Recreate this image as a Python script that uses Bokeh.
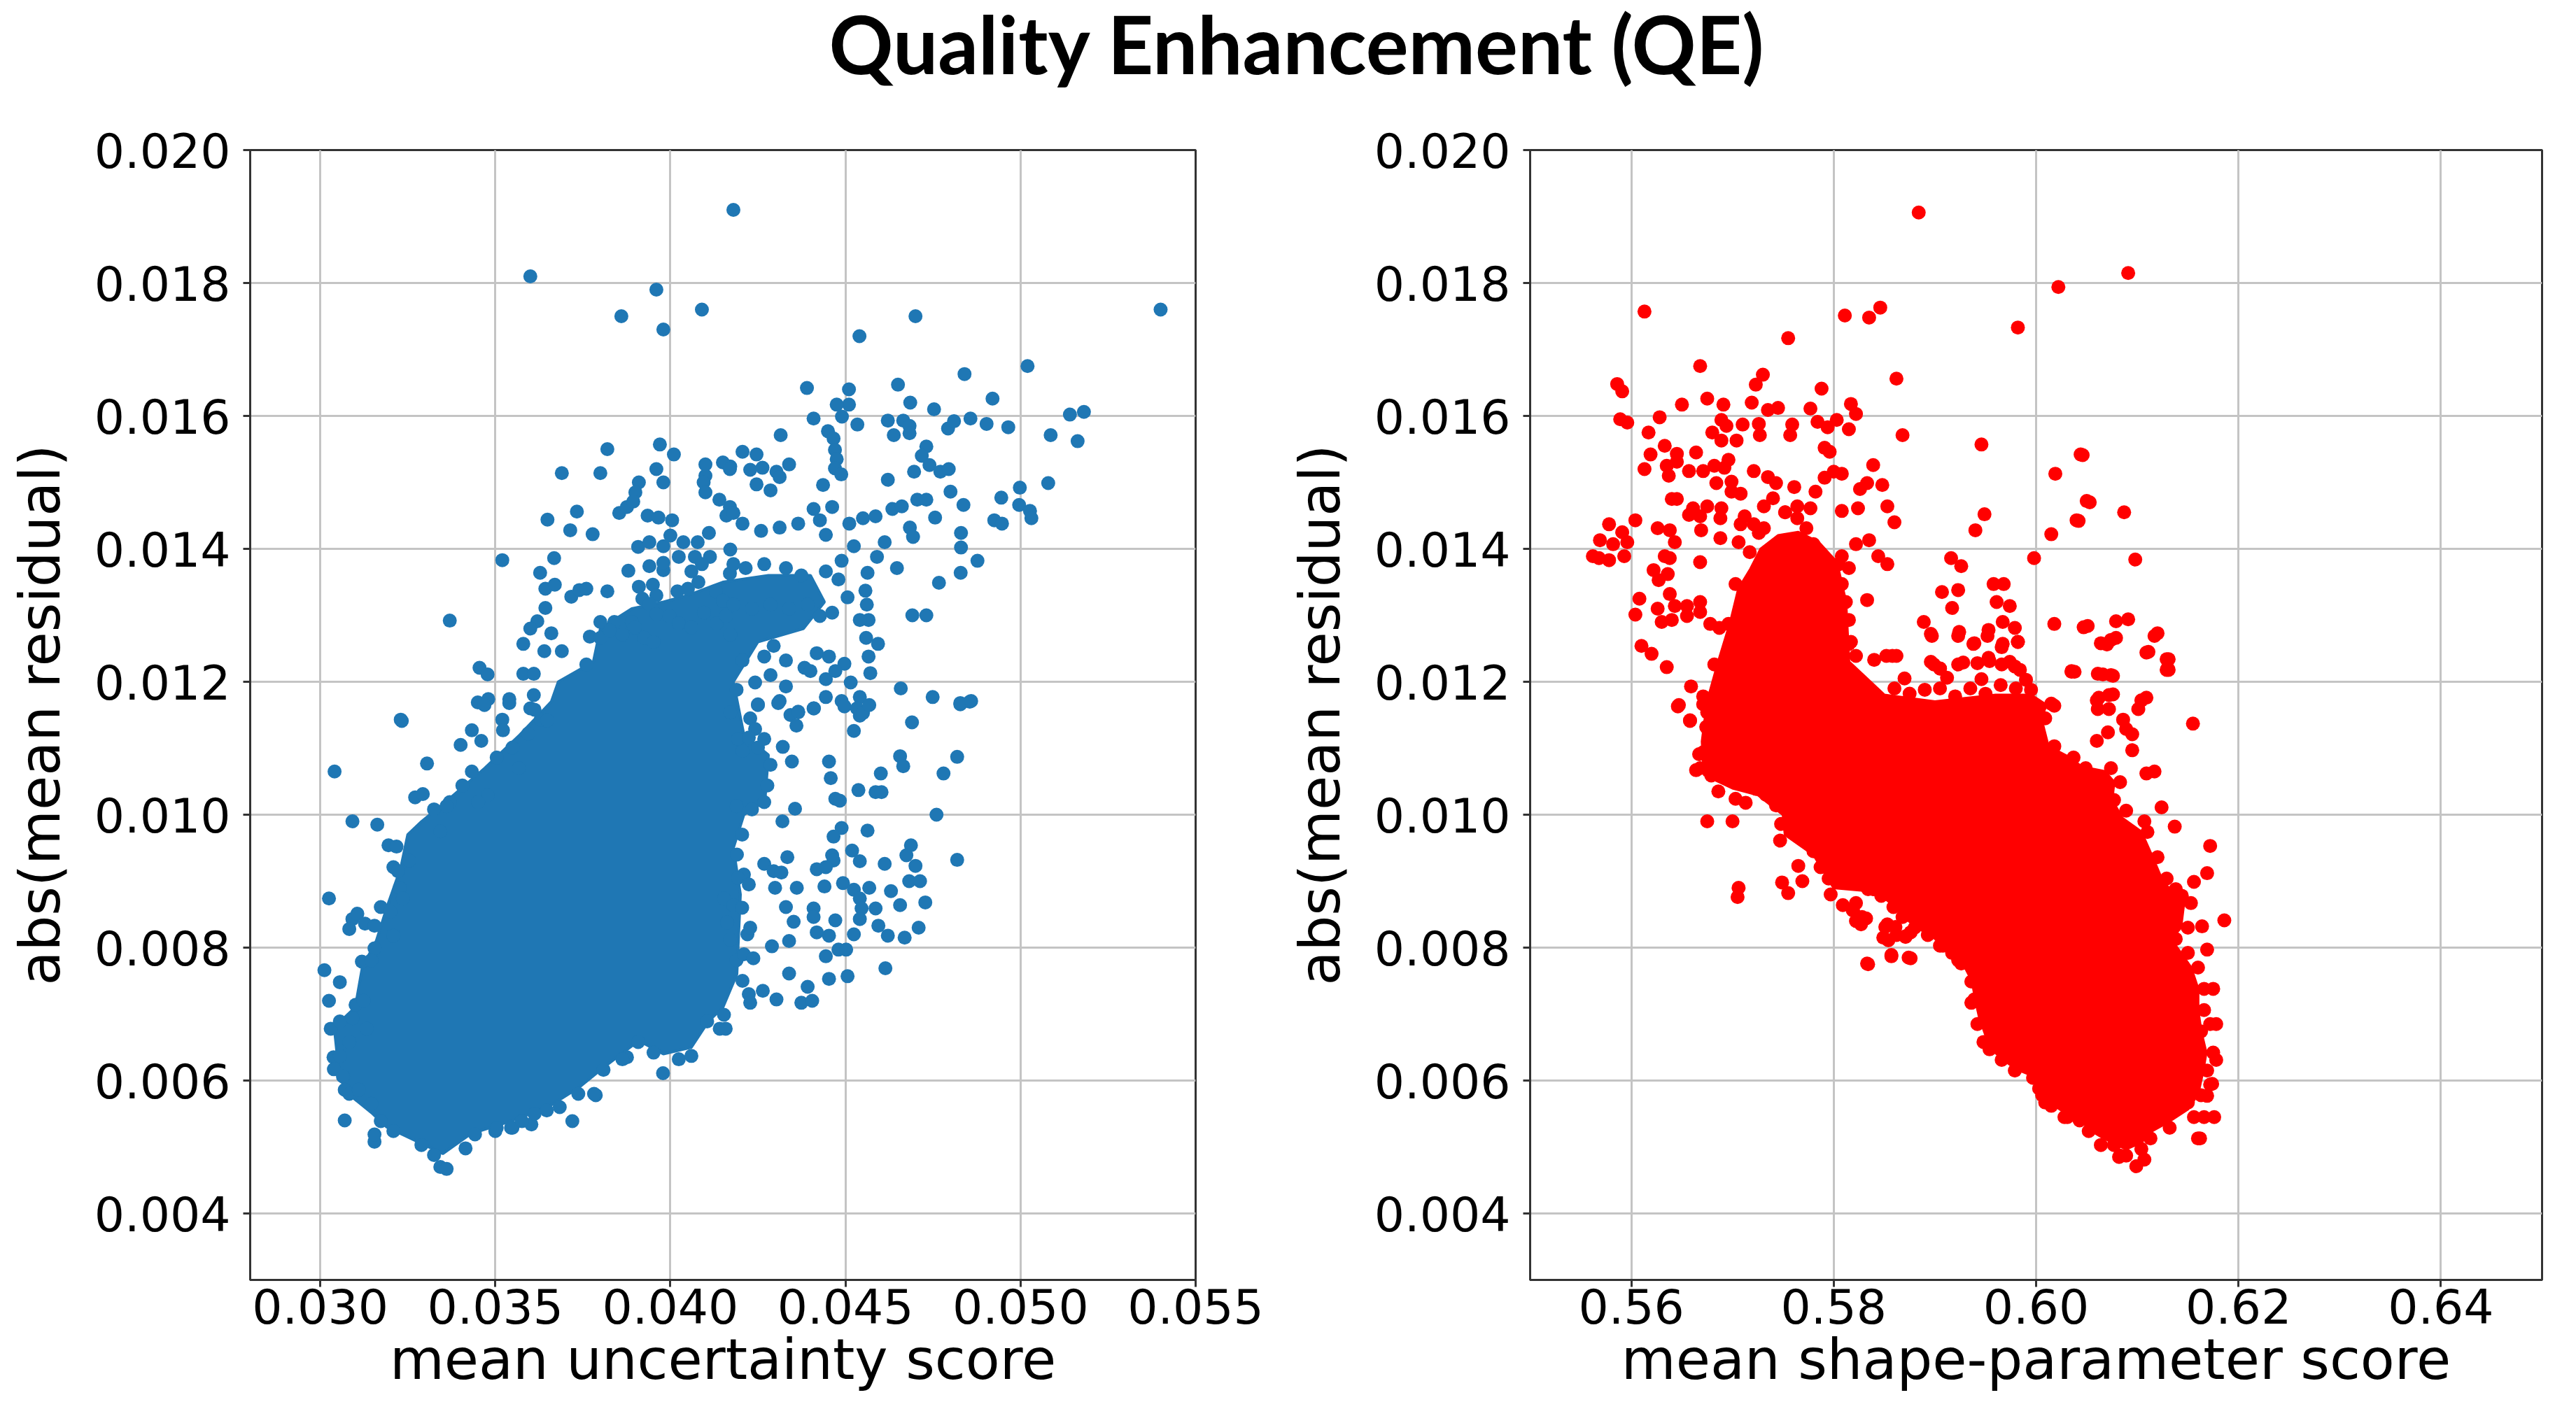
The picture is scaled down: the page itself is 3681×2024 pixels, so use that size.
from bokeh.plotting import figure
from bokeh.models import Div, FixedTicker, NumeralTickFormatter, Range1d
from bokeh.layouts import column, row
from bokeh.embed import file_html
from bokeh.resources import INLINE

TITLE = "Quality Enhancement (QE)"
X1_LABEL = "mean uncertainty score"
X2_LABEL = "mean shape-parameter score"
Y_LABEL = "abs(mean residual)"
Y_TICKS = [0.004, 0.006, 0.008, 0.010, 0.012, 0.014, 0.016, 0.018, 0.020]
X1_TICKS = [0.030, 0.035, 0.040, 0.045, 0.050, 0.055]
X2_TICKS = [0.56, 0.58, 0.60, 0.62, 0.64]

# outline of the fully overlapped core of the blue cloud
blue_core = [
    (0.0335, 0.0049), (0.0343, 0.0052), (0.0355, 0.0054), (0.0365, 0.0056), (0.0374, 0.0059), (0.0381, 0.0062),
    (0.0391, 0.0066), (0.0398, 0.0064), (0.0406, 0.0065), (0.0411, 0.0069), (0.0415, 0.0071), (0.0419, 0.0076),
    (0.0420, 0.0088), (0.0418, 0.0095), (0.0421, 0.0100), (0.0427, 0.0102), (0.0428, 0.0109), (0.0421, 0.0112),
    (0.0418, 0.0120), (0.0425, 0.0126), (0.0438, 0.0128), (0.0444, 0.0132), (0.0440, 0.0136), (0.0428, 0.0136),
    (0.0415, 0.0135), (0.0405, 0.0133), (0.0398, 0.0132), (0.0389, 0.0131), (0.0380, 0.0128), (0.0378, 0.0123),
    (0.0368, 0.0120), (0.0366, 0.0117), (0.0357, 0.0112), (0.0347, 0.0107), (0.0336, 0.0102), (0.0329, 0.0099),
    (0.0325, 0.0097), (0.0323, 0.0092), (0.0319, 0.0086), (0.0316, 0.0081), (0.0312, 0.0077), (0.0310, 0.0071),
    (0.0304, 0.0068), (0.0305, 0.0063), (0.0306, 0.0060), (0.0308, 0.0058), (0.0315, 0.0055), (0.0319, 0.0053),
    (0.0331, 0.0050),
]

# individual blue points
blue_pts = [
    (0.0418, 0.0191), (0.0360, 0.0181), (0.0396, 0.0179), (0.0409, 0.0176), (0.0386, 0.0175), (0.0398, 0.0173),
    (0.0540, 0.0176), (0.0470, 0.0175), (0.0454, 0.0172), (0.0502, 0.01675), (0.0484, 0.01663), (0.0465, 0.01647),
    (0.0492, 0.01626), (0.0439, 0.01642), (0.0451, 0.0164), (0.0451, 0.01617), (0.04475, 0.01617), (0.0449, 0.01599),
    (0.04534, 0.01587), (0.04409, 0.01596), (0.04685, 0.0162), (0.04753, 0.0161), (0.04621, 0.01593), (0.04665, 0.01593),
    (0.04683, 0.01585), (0.04638, 0.01571), (0.04683, 0.01574), (0.04793, 0.01581), (0.0481, 0.01592), (0.04857, 0.01596),
    (0.04903, 0.01588), (0.04965, 0.01583), (0.05141, 0.01602), (0.05181, 0.01606), (0.05086, 0.01571), (0.05163, 0.01562),
    (0.04315, 0.01571), (0.04206, 0.01546), (0.04246, 0.01542), (0.04171, 0.01524), (0.0445, 0.01577), (0.04466, 0.01566),
    (0.0447, 0.01549), (0.04475, 0.01535), (0.0447, 0.01521), (0.04488, 0.01512), (0.04436, 0.01496), (0.04228, 0.01519),
    (0.04263, 0.01522), (0.04303, 0.01516), (0.04312, 0.01508), (0.04246, 0.01497), (0.04286, 0.01488), (0.04339, 0.01527),
    (0.04621, 0.01504), (0.04731, 0.01554), (0.04718, 0.0154), (0.0474, 0.01526), (0.04696, 0.01516), (0.04771, 0.01516),
    (0.04795, 0.0152), (0.048, 0.01486), (0.04837, 0.01466), (0.04705, 0.01474), (0.04731, 0.01474), (0.04634, 0.0146),
    (0.04661, 0.01464), (0.04756, 0.01447), (0.04945, 0.01477), (0.04998, 0.01492), (0.05079, 0.01499), (0.04996, 0.01466),
    (0.05027, 0.01457), (0.05031, 0.01446), (0.04925, 0.01443), (0.04947, 0.01438), (0.0483, 0.01424), (0.0483, 0.01402),
    (0.04877, 0.01382), (0.04829, 0.01364), (0.04767, 0.01349), (0.04647, 0.01371), (0.04684, 0.01432), (0.04693, 0.01418),
    (0.04691, 0.013), (0.04731, 0.013), (0.04612, 0.0141), (0.0459, 0.01388), (0.04563, 0.01364), (0.04557, 0.01337),
    (0.04561, 0.01316), (0.04566, 0.01293), (0.04593, 0.01257), (0.04566, 0.01238), (0.04571, 0.01213), (0.04511, 0.01438),
    (0.0455, 0.01446), (0.04586, 0.01449), (0.04524, 0.01404), (0.04658, 0.0119), (0.04749, 0.01177), (0.04828, 0.01166),
    (0.04855, 0.0117),
    (0.0401, 0.01542), (0.0382, 0.0155), (0.0397, 0.01557), (0.0369, 0.01514), (0.0380, 0.01514), (0.0391, 0.0150),
    (0.0390, 0.01485), (0.0396, 0.0152), (0.0398, 0.0150), (0.0410, 0.01527), (0.0410, 0.0151), (0.04095, 0.0150),
    (0.0410, 0.01485), (0.0415, 0.0153), (0.0417, 0.0152), (0.0414, 0.01474), (0.0417, 0.01463), (0.0416, 0.0145),
    (0.03854, 0.01454), (0.03876, 0.01463), (0.03894, 0.01471), (0.03733, 0.01456), (0.03649, 0.01444), (0.03714, 0.01428),
    (0.03778, 0.01422), (0.03935, 0.0145), (0.03966, 0.01447), (0.04005, 0.01443), (0.03908, 0.01403), (0.0394, 0.0141),
    (0.0398, 0.01404), (0.0400, 0.0142), (0.04037, 0.0141), (0.04078, 0.0141), (0.0411, 0.01424), (0.04024, 0.01388),
    (0.0407, 0.01388), (0.04113, 0.01388), (0.0352, 0.01383), (0.03668, 0.01386), (0.03628, 0.01364), (0.0388, 0.01367),
    (0.0394, 0.01374), (0.0398, 0.01368), (0.0398, 0.01379), (0.0406, 0.01366), (0.0409, 0.01377), (0.0408, 0.0135),
    (0.0417, 0.01363), (0.0418, 0.01377), (0.03643, 0.0134), (0.0367, 0.01346), (0.03717, 0.01328), (0.0374, 0.01338),
    (0.0376, 0.0134), (0.0382, 0.01336), (0.0391, 0.01343), (0.0395, 0.01346), (0.0392, 0.01325), (0.0396, 0.0133),
    (0.0394, 0.01317), (0.0402, 0.01336), (0.0405, 0.0134), (0.0413, 0.01336), (0.0415, 0.01322), (0.03643, 0.01311),
    (0.0337, 0.01292), (0.0362, 0.01291), (0.0360, 0.0128), (0.0366, 0.01273), (0.0358, 0.01257), (0.0364, 0.01246),
    (0.0369, 0.01246), (0.0377, 0.01268), (0.0376, 0.01226), (0.03455, 0.01221), (0.03478, 0.01211), (0.0358, 0.01212),
    (0.0361, 0.01212), (0.0396, 0.01302), (0.0380, 0.0129), (0.0384, 0.0129), (0.0389, 0.0129), (0.0354, 0.01174),
    (0.0361, 0.0118), (0.0345, 0.01169), (0.0348, 0.01174), (0.0323, 0.01143), (0.0352, 0.01143), (0.0360, 0.0116),
    (0.0363, 0.01143),
    (0.038, 0.01266), (0.03827, 0.01277), (0.03863, 0.01271), (0.03899, 0.01282), (0.03926, 0.01266), (0.03952, 0.0126),
    (0.03997, 0.01299), (0.04024, 0.01288), (0.0406, 0.01282), (0.04096, 0.01304), (0.04132, 0.01288), (0.04159, 0.01299),
    (0.0418, 0.01454), (0.04206, 0.01438), (0.04259, 0.01427), (0.04312, 0.01432), (0.04365, 0.01438), (0.04409, 0.0146),
    (0.04462, 0.01463), (0.04427, 0.01443), (0.04444, 0.01421), (0.04171, 0.01399), (0.04215, 0.01371), (0.04268, 0.01377),
    (0.0433, 0.01371), (0.04374, 0.0136), (0.04444, 0.01366), (0.04489, 0.01382), (0.0448, 0.01354), (0.04506, 0.01327),
    (0.0418, 0.01316), (0.04233, 0.0131), (0.04286, 0.01316), (0.04339, 0.0131), (0.04392, 0.01316), (0.04427, 0.01299),
    (0.04462, 0.01304), (0.04541, 0.01293), (0.04559, 0.01266), (0.04171, 0.01271), (0.04206, 0.01232), (0.04268, 0.01238),
    (0.04295, 0.01254), (0.0433, 0.01232), (0.04383, 0.01221), (0.04418, 0.01243), (0.04453, 0.01238), (0.04497, 0.01227),
    (0.04189, 0.01188), (0.04242, 0.01199), (0.04286, 0.0121), (0.0433, 0.01193), (0.044, 0.01216), (0.04444, 0.01204),
    (0.04471, 0.01216), (0.04515, 0.01199), (0.04171, 0.01154), (0.0425, 0.01166), (0.04312, 0.01171), (0.04365, 0.01154),
    (0.04409, 0.0116), (0.04444, 0.01177), (0.04489, 0.01171), (0.04541, 0.01177), (0.04541, 0.01149),
    (0.03469, 0.01165), (0.0354, 0.01168), (0.03433, 0.01127), (0.0346, 0.01111), (0.03522, 0.01127), (0.03549, 0.01101),
    (0.03504, 0.01086), (0.03567, 0.0107), (0.03433, 0.01065), (0.03406, 0.01044), (0.03478, 0.01029), (0.0337, 0.01019),
    (0.03451, 0.01019), (0.03612, 0.01158), (0.03648, 0.01142), (0.03594, 0.01122),
    (0.03233, 0.01141), (0.03041, 0.01065), (0.03305, 0.01077), (0.03401, 0.01105), (0.03271, 0.01026), (0.03293, 0.01031),
    (0.03092, 0.0099), (0.03163, 0.00985), (0.03195, 0.00954), (0.03025, 0.00874), (0.03012, 0.00766), (0.03056, 0.00748),
    (0.03025, 0.0072), (0.03038, 0.00635), (0.0307, 0.0054), (0.03155, 0.00508), (0.03343, 0.0047), (0.03787, 0.00578),
    (0.03876, 0.00635), (0.0372, 0.00539), (0.03545, 0.00529), (0.035, 0.00524), (0.03603, 0.00534),
    (0.03325, 0.01008), (0.03361, 0.01013), (0.03343, 0.00975), (0.03218, 0.00952), (0.03209, 0.00921), (0.03222, 0.00915),
    (0.03254, 0.00931), (0.03227, 0.0089), (0.03236, 0.00874), (0.03173, 0.00861), (0.032, 0.00854), (0.03092, 0.00843),
    (0.03106, 0.00851), (0.03083, 0.00828), (0.03128, 0.00836), (0.03155, 0.00833), (0.03209, 0.00818), (0.03155, 0.00799),
    (0.03119, 0.00779), (0.03146, 0.00781), (0.03101, 0.00714), (0.03124, 0.0072), (0.0303, 0.00678), (0.03056, 0.00689),
    (0.03092, 0.00694), (0.03133, 0.00678), (0.03083, 0.00658), (0.03056, 0.00637), (0.03039, 0.00617), (0.03065, 0.00606),
    (0.0307, 0.00586), (0.03083, 0.0058), (0.0311, 0.00586), (0.03146, 0.00565), (0.03155, 0.00519), (0.03173, 0.00539),
    (0.03209, 0.00524), (0.03289, 0.00503), (0.03325, 0.00488), (0.03361, 0.00467), (0.03415, 0.00498),
    (0.03442, 0.00519), (0.03504, 0.00529), (0.03549, 0.00529), (0.03576, 0.00539), (0.03612, 0.0055), (0.03647, 0.00555),
    (0.03684, 0.0056), (0.03737, 0.0058), (0.03782, 0.0058), (0.03809, 0.00616), (0.03863, 0.00632), (0.03908, 0.00658),
    (0.03952, 0.00642), (0.03979, 0.00611), (0.04024, 0.00632), (0.0406, 0.00637), (0.04105, 0.00689), (0.04141, 0.00678),
    (0.04153, 0.00874), (0.0418, 0.00864), (0.04162, 0.00838), (0.04171, 0.00812), (0.04189, 0.00781), (0.04206, 0.0075),
    (0.04224, 0.0073), (0.04153, 0.00699), (0.04158, 0.00678),
    (0.0421, 0.0079), (0.0422, 0.0082), (0.04205, 0.0086), (0.0421, 0.0091), (0.0419, 0.0094), (0.04205, 0.0097),
    (0.04206, 0.01096), (0.0425, 0.01101), (0.04286, 0.01075), (0.04277, 0.01044), (0.04268, 0.01019), (0.04233, 0.01008),
    (0.04189, 0.01013),
    (0.0425, 0.01165), (0.04308, 0.01168), (0.04343, 0.0115), (0.04365, 0.01155), (0.0436, 0.01134), (0.0441, 0.0116),
    (0.04228, 0.01145), (0.04242, 0.01129), (0.04193, 0.01114), (0.04224, 0.01116), (0.04268, 0.01114), (0.04321, 0.01102),
    (0.04347, 0.0108), (0.04356, 0.01009), (0.0432, 0.0099), (0.04497, 0.01163), (0.04533, 0.0116), (0.0455, 0.01153),
    (0.04568, 0.01165), (0.04524, 0.01126), (0.0469, 0.01139), (0.04656, 0.01088), (0.04665, 0.01073), (0.04601, 0.01062),
    (0.04453, 0.0108), (0.04458, 0.01055), (0.04471, 0.01024), (0.04484, 0.01021), (0.04537, 0.01037), (0.04586, 0.01034),
    (0.04603, 0.01034), (0.0478, 0.01062), (0.04819, 0.01087), (0.04828, 0.01168), (0.04859, 0.01171), (0.0476, 0.0100),
    (0.04819, 0.00932), (0.04563, 0.00976), (0.04489, 0.0098), (0.04466, 0.00967), (0.04687, 0.00954), (0.04674, 0.00939),
    (0.047, 0.00923), (0.04682, 0.009), (0.04713, 0.009), (0.04612, 0.00926), (0.04519, 0.00946), (0.04541, 0.0093),
    (0.04462, 0.00939), (0.04466, 0.00931), (0.04418, 0.00918), (0.04444, 0.00921), (0.04334, 0.00936), (0.04268, 0.00926),
    (0.04295, 0.00915), (0.04317, 0.00913), (0.04299, 0.0089), (0.04193, 0.00905), (0.04224, 0.00895), (0.04361, 0.0089),
    (0.0444, 0.00892), (0.04493, 0.00897), (0.04524, 0.00887), (0.04541, 0.00874), (0.04568, 0.0089), (0.04546, 0.00859),
    (0.04541, 0.00843), (0.04586, 0.00859), (0.0463, 0.00885), (0.04656, 0.00864), (0.04728, 0.00868), (0.04709, 0.0083),
    (0.04669, 0.00815), (0.04594, 0.00833), (0.04621, 0.00818), (0.04524, 0.0082), (0.0433, 0.00861), (0.04352, 0.00839),
    (0.04409, 0.00859), (0.04409, 0.00846), (0.04418, 0.00823), (0.04453, 0.00818), (0.04471, 0.00841), (0.04339, 0.0081),
    (0.0429, 0.00802), (0.04228, 0.0083), (0.04237, 0.00784), (0.04444, 0.00787), (0.0448, 0.00797), (0.04502, 0.00797),
    (0.04614, 0.00769), (0.04453, 0.00753), (0.04506, 0.00757), (0.04339, 0.00761), (0.04392, 0.00741), (0.04374, 0.00717),
    (0.04405, 0.0072), (0.04264, 0.00735), (0.04303, 0.00722), (0.04228, 0.00717),
]

# outline of the fully overlapped core of the red cloud
red_core = [
    (0.6089, 0.00497), (0.6104, 0.00507), (0.6113, 0.00523), (0.6132, 0.00539), (0.6150, 0.00557), (0.6160, 0.00580),
    (0.6165, 0.00615), (0.6168, 0.00642), (0.6163, 0.00674), (0.6160, 0.00706), (0.6160, 0.00738), (0.6153, 0.00770),
    (0.6143, 0.00792), (0.6133, 0.00813), (0.6143, 0.00830), (0.6146, 0.00867), (0.6138, 0.00878), (0.6125, 0.00900),
    (0.6115, 0.00936), (0.6104, 0.00974), (0.6085, 0.00995), (0.6075, 0.01022), (0.6077, 0.01049), (0.6068, 0.01065),
    (0.6045, 0.01072), (0.6033, 0.01086), (0.6012, 0.01103), (0.6005, 0.01145), (0.6010, 0.01165), (0.5995, 0.0118),
    (0.5960, 0.0118), (0.5900, 0.0117), (0.5850, 0.0118), (0.5815, 0.0123), (0.5812, 0.0132), (0.5803, 0.0138),
    (0.5785, 0.0141), (0.5765, 0.01425), (0.5745, 0.0142), (0.5728, 0.0140), (0.5718, 0.0137), (0.5706, 0.0134),
    (0.5698, 0.0129), (0.5686, 0.0123), (0.5675, 0.0117), (0.5670, 0.0111), (0.5672, 0.0106), (0.5700, 0.0104),
    (0.5725, 0.0103), (0.5750, 0.0100), (0.5752, 0.0097), (0.5780, 0.0094), (0.5800, 0.0089), (0.5837, 0.00885),
    (0.5850, 0.00875), (0.5862, 0.0086), (0.5870, 0.00846), (0.5882, 0.0083), (0.5895, 0.0082), (0.5907, 0.00805),
    (0.5918, 0.00792), (0.5928, 0.00776), (0.5937, 0.00749), (0.5940, 0.00722), (0.5944, 0.00695), (0.5950, 0.00669),
    (0.5956, 0.00647), (0.5968, 0.00631), (0.5981, 0.00617), (0.5999, 0.00606), (0.6006, 0.00588), (0.6016, 0.00565),
    (0.6032, 0.00548), (0.6045, 0.00540), (0.6053, 0.00526), (0.6065, 0.00515), (0.6078, 0.00505),
]

# individual red points
red_pts = [
    (0.5884, 0.01906), (0.6022, 0.01794), (0.5982, 0.01733), (0.5613, 0.01757), (0.5811, 0.01751), (0.5835, 0.01748),
    (0.5846, 0.01763), (0.5755, 0.01717), (0.5668, 0.01675), (0.5862, 0.01656), (0.5586, 0.01648), (0.5591, 0.01637),
    (0.573, 0.01662), (0.5723, 0.01647), (0.5788, 0.01641), (0.565, 0.01617), (0.5675, 0.01626), (0.5691, 0.01617),
    (0.5719, 0.0162), (0.5735, 0.01609), (0.5745, 0.01612), (0.5777, 0.01611), (0.5817, 0.01618), (0.5822, 0.01603),
    (0.5628, 0.01598), (0.5589, 0.01595), (0.5596, 0.0159), (0.5617, 0.01575), (0.5689, 0.01594), (0.5694, 0.01585),
    (0.568, 0.01575), (0.5689, 0.01563), (0.5704, 0.01563), (0.571, 0.01587), (0.5726, 0.01588), (0.5727, 0.01571),
    (0.5759, 0.01587), (0.5757, 0.01571), (0.5784, 0.01591), (0.5794, 0.01583), (0.5803, 0.01594), (0.5815, 0.0158),
    (0.5868, 0.01571), (0.5946, 0.01557), (0.6044, 0.01542), (0.5633, 0.01555), (0.5645, 0.01543), (0.5619, 0.01542),
    (0.5664, 0.01545), (0.5645, 0.01531), (0.5613, 0.0152), (0.5635, 0.01525), (0.5637, 0.0151), (0.5657, 0.01517),
    (0.5671, 0.01517), (0.5682, 0.01525), (0.5696, 0.01534), (0.5692, 0.01522), (0.5791, 0.01552), (0.5796, 0.01546),
    (0.5721, 0.01517), (0.5735, 0.01508), (0.5743, 0.01499), (0.5684, 0.01499), (0.5699, 0.01501), (0.5699, 0.01486),
    (0.5708, 0.01483), (0.5761, 0.01493), (0.5782, 0.01486), (0.5791, 0.01507), (0.58, 0.01516), (0.5808, 0.01513),
    (0.5839, 0.01526), (0.5826, 0.0149), (0.5833, 0.01499), (0.5848, 0.01496), (0.6019, 0.01513), (0.5645, 0.01475),
    (0.564, 0.01475), (0.5661, 0.01461), (0.5657, 0.01451), (0.5675, 0.01464), (0.5689, 0.01461), (0.5668, 0.01449),
    (0.5688, 0.01446), (0.5669, 0.01428), (0.5712, 0.01449), (0.5708, 0.01437), (0.5721, 0.01437), (0.5726, 0.01424),
    (0.5731, 0.01464), (0.574, 0.01476), (0.5752, 0.01455), (0.5764, 0.01464), (0.5764, 0.01446), (0.5777, 0.01461),
    (0.5824, 0.01461), (0.5808, 0.01457), (0.5853, 0.01464), (0.586, 0.0144), (0.5949, 0.01452), (0.605, 0.01472),
    (0.604, 0.01443), (0.594, 0.01428), (0.6015, 0.01422), (0.5604, 0.01443), (0.5578, 0.01437), (0.5569, 0.01413),
    (0.5582, 0.01407), (0.5591, 0.01425), (0.5596, 0.0141), (0.5568, 0.01386), (0.5578, 0.01383), (0.5593, 0.01389),
    (0.5562, 0.01389), (0.5626, 0.01431), (0.5638, 0.01428), (0.5643, 0.0141), (0.5688, 0.01416), (0.5706, 0.0141),
    (0.5633, 0.01389), (0.5638, 0.01386), (0.5668, 0.0138), (0.5622, 0.01368), (0.5627, 0.01353), (0.5636, 0.01362),
    (0.5608, 0.01325), (0.5604, 0.01301), (0.5638, 0.01332), (0.5626, 0.01310), (0.5643, 0.01314), (0.5655, 0.01314),
    (0.5668, 0.0132), (0.5630, 0.0129), (0.5640, 0.01293), (0.5655, 0.01299), (0.5668, 0.01305), (0.5678, 0.01287),
    (0.5687, 0.01281), (0.561, 0.01254), (0.562, 0.01242), (0.5635, 0.01222), (0.5659, 0.01193), (0.5646, 0.01163),
    (0.5658, 0.01141), (0.5671, 0.01178), (0.5675, 0.01154), (0.5678, 0.01124), (0.5671, 0.01094), (0.5668, 0.0107),
    (0.5916, 0.01386), (0.5926, 0.01374), (0.5907, 0.01335), (0.5923, 0.01338), (0.5917, 0.01311), (0.5958, 0.01347),
    (0.5968, 0.01347), (0.5961, 0.0132), (0.5974, 0.01314), (0.5998, 0.01386), (0.6018, 0.01287), (0.6047, 0.01282),
    (0.5889, 0.0129), (0.5896, 0.01272), (0.5924, 0.01275), (0.5938, 0.01257), (0.5953, 0.01278), (0.5967, 0.0129),
    (0.5979, 0.01281), (0.5967, 0.01257), (0.5982, 0.0126), (0.6035, 0.01216), (0.5896, 0.0123), (0.5905, 0.0122),
    (0.5928, 0.01229), (0.5953, 0.01236), (0.5974, 0.0123), (0.5984, 0.01218), (0.5852, 0.01239), (0.5833, 0.01323),
    (0.5817, 0.0126), (0.5815, 0.01293), (0.5808, 0.01257), (0.5822, 0.01239), (0.584, 0.01233), (0.5858, 0.01239),
    (0.5808, 0.01347), (0.5815, 0.01371), (0.5808, 0.01389), (0.5822, 0.01407), (0.5835, 0.01413), (0.5844, 0.01389),
    (0.5853, 0.01377),
    (0.5860, 0.0119), (0.5875, 0.01182), (0.5890, 0.01188), (0.5905, 0.0119), (0.5920, 0.01178), (0.5935, 0.0119),
    (0.5950, 0.01182), (0.5965, 0.01195), (0.5980, 0.0119), (0.5995, 0.01188), (0.5870, 0.01205), (0.5912, 0.01206),
    (0.5946, 0.01204), (0.5990, 0.01203),
    (0.6091, 0.01815), (0.6046, 0.01541), (0.6053, 0.0147), (0.6042, 0.01442), (0.6087, 0.01455), (0.6098, 0.01384),
    (0.6051, 0.01284), (0.6079, 0.01291), (0.6091, 0.01294), (0.6079, 0.01266), (0.607, 0.01256), (0.612, 0.01273),
    (0.6111, 0.01245), (0.6131, 0.01234), (0.6131, 0.01218), (0.6038, 0.01215), (0.6066, 0.01211), (0.6076, 0.01209),
    (0.6062, 0.01176), (0.6076, 0.01181), (0.6109, 0.01176),
    (0.5862, 0.01239), (0.5899, 0.01226), (0.5905, 0.0122), (0.5923, 0.01226), (0.5942, 0.01228), (0.5954, 0.01231),
    (0.5966, 0.01226), (0.5979, 0.01223), (0.5897, 0.01269), (0.5923, 0.01269), (0.5939, 0.01258), (0.5952, 0.01269),
    (0.5966, 0.01252), (0.5982, 0.0126), (0.6035, 0.01215), (0.6061, 0.01212), (0.6074, 0.0121), (0.6064, 0.01258),
    (0.6074, 0.01263), (0.6109, 0.01244), (0.6129, 0.01234), (0.6129, 0.01218), (0.6117, 0.01269), (0.6018, 0.01164),
    (0.606, 0.01172), (0.6061, 0.01159), (0.6072, 0.0118), (0.6072, 0.01159), (0.6086, 0.01143), (0.6089, 0.01129),
    (0.6104, 0.01172), (0.6101, 0.01159), (0.6155, 0.01137), (0.606, 0.01111), (0.6071, 0.01124), (0.6095, 0.01121),
    (0.6095, 0.01097), (0.6109, 0.01062), (0.6117, 0.01065), (0.6124, 0.01011), (0.6137, 0.00982), (0.6172, 0.00953),
    (0.6169, 0.00912), (0.6156, 0.00899), (0.6164, 0.00832), (0.6186, 0.00841), (0.6169, 0.00797), (0.6175, 0.00738),
    (0.6178, 0.00685), (0.6178, 0.00631), (0.6172, 0.00594), (0.6166, 0.00545), (0.616, 0.00513), (0.6107, 0.00481),
    (0.6083, 0.00487), (0.6064, 0.00503), (0.6099, 0.00471), (0.6082, 0.00485), (0.6162, 0.00513), (0.6176, 0.00545),
    (0.6174, 0.00595), (0.6169, 0.00577), (0.6028, 0.00545), (0.6009, 0.00567), (0.5979, 0.00615), (0.5966, 0.00631),
    (0.5948, 0.00658), (0.5942, 0.00685), (0.5936, 0.00717), (0.5936, 0.00749), (0.5923, 0.00781), (0.5908, 0.00803),
    (0.5896, 0.00824), (0.5819, 0.00856), (0.5828, 0.00846), (0.5853, 0.00835), (0.5862, 0.00819), (0.5871, 0.00816),
    (0.5833, 0.00776), (0.5857, 0.00789), (0.5874, 0.00785), (0.5839, 0.00888), (0.5788, 0.00974), (0.5794, 0.00942),
    (0.5801, 0.0091), (0.5819, 0.00904), (0.5828, 0.00953), (0.5822, 0.00867),
    (0.5647, 0.01165), (0.5658, 0.01142), (0.5686, 0.01035), (0.5703, 0.01024), (0.5713, 0.01018), (0.5675, 0.0099),
    (0.5700, 0.0099), (0.5747, 0.00961), (0.5765, 0.00923), (0.5769, 0.0090), (0.5749, 0.00898), (0.5755, 0.00882),
    (0.5706, 0.0089), (0.5705, 0.00876), (0.5840, 0.00888), (0.5822, 0.0084), (0.5832, 0.00844), (0.5851, 0.00831),
    (0.5854, 0.00811), (0.5871, 0.00817), (0.5834, 0.00775), (0.5857, 0.00787), (0.5876, 0.00784),
    (0.6015, 0.01167), (0.6009, 0.01145), (0.6018, 0.01103), (0.6037, 0.01086), (0.6049, 0.0107), (0.6074, 0.0107),
    (0.6083, 0.01049), (0.6077, 0.01022), (0.6089, 0.01006), (0.6107, 0.0099), (0.6110, 0.00974), (0.612, 0.00936),
    (0.6129, 0.00904), (0.6138, 0.00888), (0.6144, 0.00878), (0.6153, 0.00867), (0.615, 0.0083), (0.6138, 0.00813),
    (0.615, 0.00792), (0.616, 0.0077), (0.6166, 0.00738), (0.6166, 0.00706), (0.6163, 0.00674), (0.6172, 0.00685),
    (0.6175, 0.00642), (0.6169, 0.00615), (0.6163, 0.00578), (0.615, 0.00567), (0.6156, 0.00545), (0.6132, 0.00529),
    (0.6113, 0.00513), (0.6104, 0.00497), (0.6089, 0.00487), (0.6077, 0.00503), (0.6052, 0.00524), (0.6043, 0.0054),
    (0.6031, 0.00545), (0.6015, 0.00562), (0.6006, 0.00578), (0.6003, 0.00588), (0.5997, 0.00604), (0.5954, 0.00647),
    (0.5939, 0.00722), (0.5926, 0.00776), (0.5917, 0.00792), (0.5905, 0.00803), (0.5893, 0.00819), (0.588, 0.0083),
    (0.5868, 0.00846), (0.5859, 0.00861), (0.5847, 0.00878), (0.5834, 0.00888),
    (0.5674, 0.01132), (0.5667, 0.01091), (0.5664, 0.01067), (0.5679, 0.01059), (0.5694, 0.01063), (0.5708, 0.01051),
    (0.5723, 0.01039), (0.5733, 0.0103), (0.5743, 0.01014), (0.5748, 0.00986), (0.5763, 0.0097), (0.578, 0.00945),
    (0.5787, 0.00921), (0.5795, 0.00904), (0.5797, 0.0088), (0.5809, 0.00864), (0.5819, 0.00856), (0.5827, 0.00835),
    (0.5849, 0.00815), (0.5861, 0.00831), (0.5876, 0.00823), (0.5814, 0.00949), (0.5827, 0.00953), (0.5824, 0.00909),
    (0.5851, 0.00909), (0.5861, 0.0088), (0.5876, 0.00872), (0.5883, 0.00852),
    (0.5815, 0.01257), (0.5812, 0.0132), (0.5805, 0.01377), (0.578, 0.01407), (0.5773, 0.01431), (0.5752, 0.01455),
    (0.5731, 0.01431), (0.5717, 0.01395), (0.5703, 0.01347), (0.5696, 0.01287), (0.5682, 0.01226), (0.5671, 0.01166),
]

BLUE = "#1f77b4"
RED = "#ff0000"
FONT = "DejaVu Sans"

blue_x = [p[0] for p in blue_pts]
blue_y = [p[1] for p in blue_pts]
red_x = [p[0] for p in red_pts]
red_y = [p[1] for p in red_pts]
blue_core_x = [p[0] for p in blue_core]
blue_core_y = [p[1] for p in blue_core]
red_core_x = [p[0] for p in red_core]
red_core_y = [p[1] for p in red_core]


def make_panel(xr, xticks, xfmt, xlabel, border_left, frame_w, border_right):
    p = figure(output_backend="svg", toolbar_location=None,
               frame_width=frame_w, frame_height=1615,
               min_border_left=border_left, min_border_right=border_right,
               min_border_top=54, min_border_bottom=185,
               x_range=Range1d(*xr), y_range=Range1d(0.003, 0.020))
    p.background_fill_color = "white"
    p.border_fill_color = "white"
    p.outline_line_color = "#333333"
    p.outline_line_width = 3
    for ax in (p.xaxis[0], p.yaxis[0]):
        ax.axis_line_color = "#333333"
        ax.axis_line_width = 3
        ax.major_tick_line_color = "#333333"
        ax.major_tick_line_width = 3
        ax.major_tick_out = 10
        ax.major_tick_in = 0
        ax.minor_tick_line_color = None
        ax.major_label_text_font = FONT
        ax.major_label_text_font_size = "68px"
        ax.major_label_text_color = "black"
        ax.axis_label_text_font = FONT
        ax.axis_label_text_font_size = "80px"
        ax.axis_label_text_font_style = "normal"
        ax.axis_label_text_color = "black"
    p.xaxis.ticker = FixedTicker(ticks=xticks)
    p.xaxis.formatter = NumeralTickFormatter(format=xfmt)
    p.xaxis.axis_label = xlabel
    p.xaxis.major_label_standoff = 2
    p.xaxis.axis_label_standoff = 2
    p.yaxis.ticker = FixedTicker(ticks=Y_TICKS)
    p.yaxis.formatter = NumeralTickFormatter(format="0.000")
    p.yaxis.axis_label = Y_LABEL
    p.yaxis.major_label_standoff = 18
    p.yaxis.axis_label_standoff = 28
    p.grid.grid_line_color = "#c4c4c4"
    p.grid.grid_line_width = 3
    return p


p1 = make_panel((0.028, 0.055), X1_TICKS, "0.000", X1_LABEL, 357, 1351, 110)
p1.patch(blue_core_x, blue_core_y, fill_color=BLUE, line_color=BLUE, line_width=4)
p1.scatter(blue_x, blue_y, size=20, fill_color=BLUE, line_color=None)

p2 = make_panel((0.55, 0.65), X2_TICKS, "0.00", X2_LABEL, 368, 1446, 25)
p2.patch(red_core_x, red_core_y, fill_color=RED, line_color=RED, line_width=4)
p2.scatter(red_x, red_y, size=20, fill_color=RED, line_color=None)

title = Div(text=('<div style="box-sizing:border-box;width:3665px;text-align:center;padding-left:30px;'
                  'font-family:Lato,\'Open Sans\',sans-serif;font-weight:bold;font-size:114px;'
                  'line-height:1;color:black;white-space:nowrap">' + TITLE + '</div>'),
            width=3665, height=150)

layout = column(title, row(p1, p2))
open("out.html", "w").write(file_html(layout, INLINE))
